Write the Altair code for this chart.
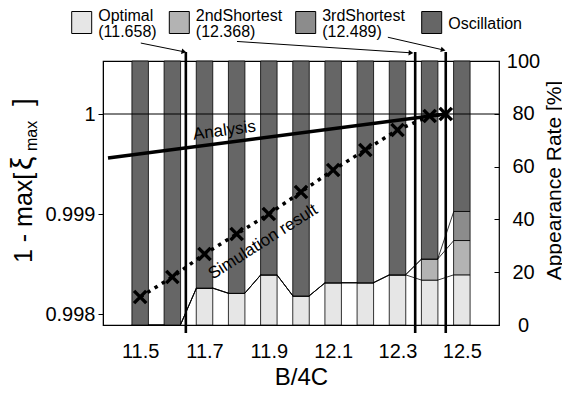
import altair as alt
import pandas as pd

# ---------------- data ----------------
cats = [11.5, 11.6, 11.7, 11.8, 11.9, 12.0, 12.1, 12.2, 12.3, 12.4, 12.5]
optimal = [0, 0, 14, 12, 19, 11, 16, 16, 19, 17, 19]
second = [0, 0, 0, 0, 0, 0, 0, 0, 0, 8, 13]
third = [0, 0, 0, 0, 0, 0, 0, 0, 0, 0, 11]
oscillation = [100, 100, 86, 88, 81, 89, 84, 84, 81, 75, 57]

series_names = ["Optimal", "2ndShortest", "3rdShortest", "Oscillation"]
series_colors = ["#e6e6e6", "#b3b3b3", "#8c8c8c", "#666666"]
legend_sub = ["(11.658)", "(12.368)", "(12.489)", ""]

sim_x = [11.5, 11.6, 11.7, 11.8, 11.9, 12.0, 12.1, 12.2, 12.3, 12.4, 12.45]
sim_y = [0.99817, 0.99837, 0.99860, 0.99880, 0.99900, 0.99922,
         0.99944, 0.99964, 0.99984, 0.99998, 1.0]

analysis_x = [11.4, 12.45]
analysis_y = [0.99956, 1.0]

marker_x = [11.642, 12.355, 12.45]

# arrows from the legend to the marker lines (x, percent-axis y)
arrow_x = [11.502, 11.801, 12.270]
arrow_y = [106.8, 107.4, 109.0]
arrow_x2 = [11.636, 12.342, 12.442]
arrow_y2 = [103.5, 103.1, 104.2]
arrow_angle = [13, 4, 13]

left_ticks = [0.998, 0.999, 1.0]
right_ticks = [0, 20, 40, 60, 80, 100]
x_ticks = [11.5, 11.7, 11.9, 12.1, 12.3, 12.5]

# left axis title pieces: main text, greek letter, subscript, closing bracket
ytitle_parts = ["1 - max[", "ξ", "max", "]"]

FONT = "Liberation Sans"

# ---------------- scales & axes ----------------
x_scale = alt.Scale(domain=[11.4, 12.6], nice=False, zero=False)
pct_scale = alt.Scale(domain=[0, 100], nice=False, zero=False)
val_scale = alt.Scale(domain=[0.99789, 1.00053], nice=False, zero=False)

x_axis = alt.Axis(values=x_ticks, format=".1f", ticks=False, domain=False, grid=False,
                  labelFontSize=20, labelPadding=16, labelColor="black",
                  title="B/4C", titleFontSize=24, titleFontWeight="normal",
                  titleColor="black", titleY=59, titleBaseline="alphabetic")
left_axis = alt.Axis(orient="left", values=left_ticks, format=".3~f", grid=False,
                     tickSize=5, tickColor="black", domainColor="black",
                     labelFontSize=20, labelPadding=3, labelColor="black",
                     title=None)
right_axis = alt.Axis(orient="right", values=right_ticks, grid=False, offset=-5,
                      tickSize=5, tickColor="black", domain=False,
                      labelFontSize=20, labelPadding=24, labelAlign="center",
                      labelColor="black",
                      title="Appearance Rate [%]", titleFontSize=21,
                      titleFontWeight="normal", titleColor="black", titleAngle=270,
                      titleX=60, titleY=119, titleAlign="center",
                      titleBaseline="middle")


def X(f):
    return alt.X(f, type="quantitative", scale=x_scale, axis=x_axis)


# ---------------- bars ----------------
rows = []
for i, c in enumerate(cats):
    for k, vals in enumerate([optimal, second, third, oscillation]):
        rows.append({"x": c, "cat": series_names[k], "v": vals[i], "ord": k})
bars_df = pd.DataFrame(rows)

bars = alt.Chart(bars_df).mark_bar(size=16.5, stroke="black", strokeWidth=0.8).encode(
    x=X("x"),
    y=alt.Y("v:Q", stack="zero", scale=pct_scale, axis=right_axis),
    color=alt.Color("cat:N", scale=alt.Scale(domain=series_names, range=series_colors),
                    legend=None),
    order=alt.Order("ord:Q"),
)

# series lines between neighbouring bars
srows = []
cum1 = optimal
cum2 = [a + b for a, b in zip(optimal, second)]
cum3 = [a + b for a, b in zip(cum2, third)]
for i in range(len(cats) - 1):
    for cum in (cum1, cum2, cum3):
        srows.append({"x": cats[i] + 0.025, "x2": cats[i + 1] - 0.025,
                      "y": cum[i], "y2": cum[i + 1]})
series_lines = alt.Chart(pd.DataFrame(srows)).mark_rule(color="black", strokeWidth=0.8).encode(
    x=X("x"), x2="x2:Q",
    y=alt.Y("y:Q", scale=pct_scale, axis=right_axis), y2="y2:Q",
)

markers = alt.Chart(pd.DataFrame({"x": marker_x, "y": [-3] * 3, "y2": [103.4] * 3})).mark_rule(
    color="black", strokeWidth=2.6).encode(
    x=X("x"), y=alt.Y("y:Q", scale=pct_scale, axis=right_axis), y2="y2:Q")

arrow_df = pd.DataFrame({"x": arrow_x, "y": arrow_y, "x2": arrow_x2, "y2": arrow_y2,
                         "ang": arrow_angle})
arrows = alt.Chart(arrow_df).mark_rule(color="black", strokeWidth=1).encode(
    x=X("x"), x2="x2:Q", y=alt.Y("y:Q", scale=pct_scale, axis=right_axis), y2="y2:Q")
heads = alt.Chart(arrow_df).mark_point(shape="triangle-right", filled=True, color="black",
                                       size=30, opacity=1).encode(
    x=X("x2"), y=alt.Y("y2:Q", scale=pct_scale, axis=right_axis),
    angle=alt.Angle("ang:Q", scale=None))

right_group = alt.layer(bars, series_lines, markers, arrows, heads)

# ---------------- left-axis layers ----------------
one_rule = alt.Chart(pd.DataFrame({"y": [1.0]})).mark_rule(color="black", strokeWidth=1).encode(
    y=alt.Y("y:Q", scale=val_scale, axis=left_axis))

analysis = alt.Chart(pd.DataFrame({"x": analysis_x, "y": analysis_y})).mark_line(
    color="black", strokeWidth=3.5).encode(
    x=X("x"), y=alt.Y("y:Q", scale=val_scale, axis=left_axis))

sim_df = pd.DataFrame({"x": sim_x, "y": sim_y})
sim_line = alt.Chart(sim_df).mark_line(color="black", strokeWidth=3.5,
                                       strokeDash=[3.5, 5]).encode(
    x=X("x"), y=alt.Y("y:Q", scale=val_scale, axis=left_axis))
sim_pts = alt.Chart(sim_df).mark_point(shape="M-1,-1L1,1M-1,1L1,-1", filled=False,
                                       stroke="black", strokeWidth=3.5, size=150,
                                       opacity=1).encode(
    x=X("x"), y=alt.Y("y:Q", scale=val_scale, axis=left_axis))

txt_df = pd.DataFrame({"x": [11.762, 11.882], "y": [0.999834, 0.998721],
                       "t": ["Analysis", "Simulation result"], "a": [352.5, 327.5]})
texts = alt.Chart(txt_df).mark_text(fontSize=17, color="black", font=FONT).encode(
    x=X("x"), y=alt.Y("y:Q", scale=val_scale, axis=left_axis), text="t:N",
    angle=alt.Angle("a:Q", scale=None))

left_group = alt.layer(one_rule, analysis, sim_line, sim_pts, texts)

# ---------------- decorations positioned relative to the plot origin ----------------
deco = []
one = pd.DataFrame({"n": [0]})

# legend above the plot
LEG_SYM_X = [-31.3, 66.3, 192.7, 318.7]
LEG_FS = 16
for name, sub, col, sx in zip(series_names, legend_sub, series_colors, LEG_SYM_X):
    deco.append(
        alt.Chart(one).mark_rect(fill=col, stroke="black", strokeWidth=1).encode(
            x=alt.value(sx), x2=alt.value(sx + 20),
            y=alt.value(-49.5), y2=alt.value(-27.5)))
    if sub:
        deco.append(
            alt.Chart(one).mark_text(align="left", baseline="alphabetic", fontSize=LEG_FS,
                                     color="black", font=FONT, text=name).encode(
                x=alt.value(sx + 26.5), y=alt.value(-40.2)))
        deco.append(
            alt.Chart(one).mark_text(align="left", baseline="alphabetic", fontSize=LEG_FS,
                                     color="black", font=FONT, text=sub).encode(
                x=alt.value(sx + 26.5), y=alt.value(-24.3)))
    else:
        deco.append(
            alt.Chart(one).mark_text(align="left", baseline="alphabetic", fontSize=LEG_FS,
                                     color="black", font=FONT, text=name).encode(
                x=alt.value(sx + 26.5), y=alt.value(-32.5)))

# rotated left-axis title with a real subscript
TB = -71.5  # baseline x of the rotated title
title_specs = [  # (text, font size, baseline x, start y)
    (ytitle_parts[0], 25, TB, 202),
    (ytitle_parts[1], 30, TB, 109),
    (ytitle_parts[2], 16, TB + 5, 90),
    (ytitle_parts[3], 28, TB, 45),
]
for t, fs, bx, sy in title_specs:
    deco.append(
        alt.Chart(one).mark_text(align="left", baseline="alphabetic", fontSize=fs,
                                 angle=270, color="black", font=FONT, text=t).encode(
            x=alt.value(bx), y=alt.value(sy)))

chart = alt.layer(right_group, left_group, *deco).resolve_scale(
    y="independent").properties(
    width=396, height=264,
    autosize=alt.AutoSizeParams(type="none"),
    padding={"left": 95, "top": 53, "right": 63, "bottom": 61},
).configure(font=FONT).configure_view(stroke="black", strokeWidth=1.2)

chart.save("out.html", embed_options={"renderer": "svg", "actions": False})
